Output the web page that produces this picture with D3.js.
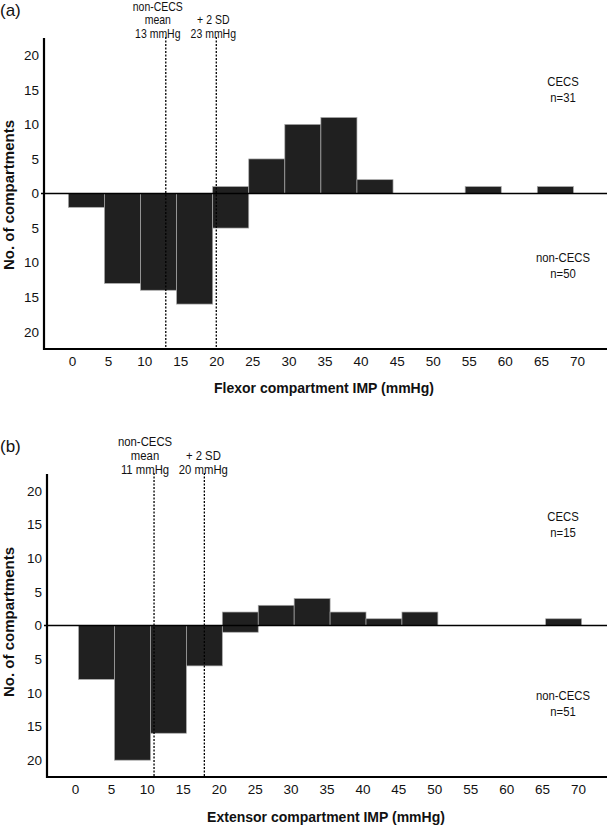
<!DOCTYPE html>
<html><head><meta charset="utf-8">
<script src="https://cdn.jsdelivr.net/npm/d3@7"></script>
<style>
html,body{margin:0;padding:0;background:#fff;}
svg{display:block;}
text{font-family:"Liberation Sans",Arial,sans-serif;fill:#111;}
</style></head>
<body>
<script>
// ---- data ----
const binStarts = [0,5,10,15,20,25,30,35,40,45,50,55,60,65];
const flexorCECS     = [0,0,0,0,1,5,10,11,2,0,0,1,0,1];
const flexorNonCECS  = [2,13,14,16,5,0,0,0,0,0,0,0,0,0];
const extensorCECS   = [0,0,0,0,2,3,4,2,1,2,0,0,0,1];
const extensorNonCECS= [8,20,16,6,1,0,0,0,0,0,0,0,0,0];
const xTicks = [0,5,10,15,20,25,30,35,40,45,50,55,60,65,70];
const yTicks = [20,15,10,5,0,-5,-10,-15,-20];
const flexorRefLines = [13,20];
const extensorRefLines = [11,18];
const flexorRefLabels = [["non-CECS","mean","13 mmHg"],["+ 2 SD","23 mmHg"]];
const extensorRefLabels = [["non-CECS","mean","11 mmHg"],["+ 2 SD","20 mmHg"]];
const flexorGroups = [["CECS","n=31"],["non-CECS","n=50"]];
const extensorGroups = [["CECS","n=15"],["non-CECS","n=51"]];

const W=608,H=827;
const svg=d3.select("body").append("svg").attr("width",W).attr("height",H);
const COND=0.84;

function narrowText(g,x,y,size,t){
  return g.append("text").attr("transform",`translate(${x},${y}) scale(${COND},1)`)
    .attr("text-anchor","middle").style("font-size",size+"px").text(t);
}

function panel(cfg){
  const g=svg.append("g");
  const x=d3.scaleLinear().domain([0,70]).range([cfg.x0,cfg.x70]);
  const y=d3.scaleLinear().domain([-22.5,22.5]).range([cfg.yBottom,cfg.yTop]);
  const bw=5;
  const up=binStarts.map((b,i)=>({b,v:cfg.pos[i]})).filter(d=>d.v>0);
  const dn=binStarts.map((b,i)=>({b,v:cfg.neg[i]})).filter(d=>d.v>0);
  g.selectAll("rect.up").data(up).join("rect")
    .attr("x",d=>x(d.b+cfg.off)).attr("width",d=>x(d.b+cfg.off+bw)-x(d.b+cfg.off))
    .attr("y",d=>y(d.v)).attr("height",d=>y(0)-y(d.v))
    .attr("fill","#202020").attr("stroke","#a8a8a8").attr("stroke-width",0.7);
  g.selectAll("rect.dn").data(dn).join("rect")
    .attr("x",d=>x(d.b+cfg.off)).attr("width",d=>x(d.b+cfg.off+bw)-x(d.b+cfg.off))
    .attr("y",y(0)).attr("height",d=>y(-d.v)-y(0))
    .attr("fill","#202020").attr("stroke","#a8a8a8").attr("stroke-width",0.7);
  g.append("line").attr("x1",cfg.axisX-3).attr("x2",607).attr("y1",y(0)).attr("y2",y(0))
    .attr("stroke","#000").attr("stroke-width",1.6);
  cfg.ref.forEach((v,i)=>{
    g.append("line").attr("x1",x(v)).attr("x2",x(v)).attr("y1",cfg.yTop-1).attr("y2",cfg.yBottom)
      .attr("stroke","#000").attr("stroke-width",1.3).attr("stroke-dasharray","2,1.5");
    const lines=cfg.refLabels[i];
    const n=lines.length;
    lines.forEach((t,j)=>{
      narrowText(g,x(v)+cfg.refDx[i],cfg.refBase-(n-1-j)*cfg.refLead,cfg.refFont,t);
    });
  });
  const yAxis=d3.axisLeft(y).tickValues(yTicks).tickFormat(d=>Math.abs(d)).tickSize(0).tickPadding(5);
  const ya=g.append("g").attr("transform",`translate(${cfg.axisX},0)`).call(yAxis);
  ya.select(".domain").remove();
  ya.selectAll("text").style("font-size","13.5px").style("font-family",'"Liberation Sans",Arial,sans-serif').attr("fill","#111");
  const xAxis=d3.axisBottom(x).tickValues(xTicks).tickSize(0).tickPadding(7);
  const xa=g.append("g").attr("transform",`translate(0,${cfg.yBottom})`).call(xAxis);
  xa.select(".domain").remove();
  xa.selectAll("text").style("font-size","13.5px").style("font-family",'"Liberation Sans",Arial,sans-serif').attr("fill","#111");
  g.append("line").attr("x1",cfg.axisX).attr("x2",cfg.axisX).attr("y1",cfg.yTop).attr("y2",cfg.yBottom+1)
    .attr("stroke","#000").attr("stroke-width",2.2);
  g.append("line").attr("x1",cfg.axisX-1).attr("x2",607).attr("y1",cfg.yBottom).attr("y2",cfg.yBottom)
    .attr("stroke","#000").attr("stroke-width",2.2);
  g.append("text").attr("x",cfg.xTitleX).attr("y",cfg.xTitleY).attr("text-anchor","middle")
    .style("font-size","14px").style("font-weight","bold").text(cfg.xTitle);
  g.append("text").attr("transform",`translate(14,${cfg.yTitleC}) rotate(-90)`).attr("text-anchor","middle")
    .style("font-size","15px").style("font-weight","bold").text("No. of compartments");
  g.append("text").attr("x",0).attr("y",cfg.tagY).style("font-size","17px").text(cfg.tag);
  cfg.groups.forEach((arr,i)=>{
    arr.forEach((t,j)=>{
      narrowText(g,cfg.groupX,cfg.groupY[i]+j*cfg.groupLead,13.5,t);
    });
  });
}

panel({pos:flexorCECS,neg:flexorNonCECS,off:-0.5,x0:72,x70:577,yTop:38,yBottom:349,axisX:44,
  ref:flexorRefLines,refLabels:flexorRefLabels,refDx:[-8,-3],refBase:37.5,refLead:13.5,refFont:12.5,
  xTitle:"Flexor compartment IMP (mmHg)",xTitleX:324,xTitleY:393,tag:"(a)",tagY:16,yTitleC:195,
  groups:flexorGroups,groupX:563,groupY:[86,262],groupLead:15.5});
panel({pos:extensorCECS,neg:extensorNonCECS,off:0.5,x0:75,x70:578,yTop:474,yBottom:777,axisX:47,
  ref:extensorRefLines,refLabels:extensorRefLabels,refDx:[-9,-1],refBase:474,refLead:14,refFont:13.5,
  xTitle:"Extensor compartment IMP (mmHg)",xTitleX:326,xTitleY:822,tag:"(b)",tagY:452,yTitleC:622,
  groups:extensorGroups,groupX:563,groupY:[521,700],groupLead:15.5});
</script>
</body></html>
